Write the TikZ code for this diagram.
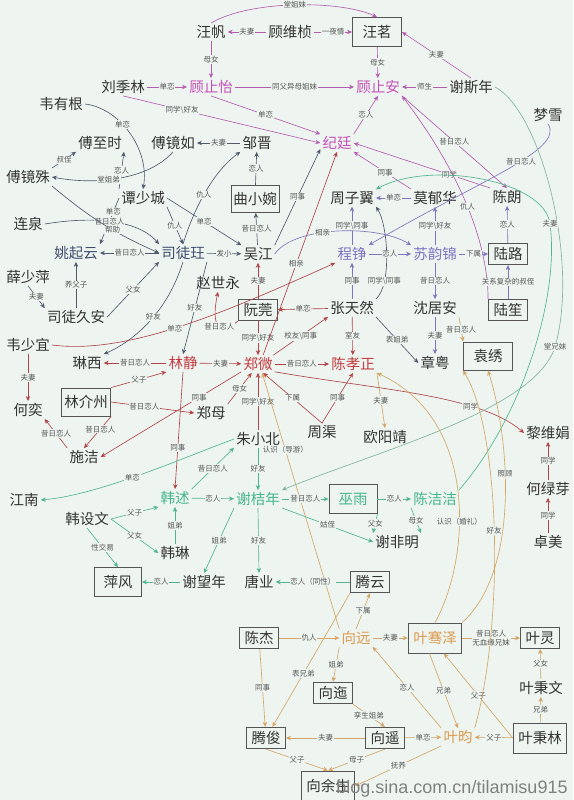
\documentclass[tikz,border=0pt]{standalone}
\usepackage{fontspec}
\setmainfont{Noto Sans CJK SC}
\setsansfont{Liberation Sans}
\usetikzlibrary{arrows.meta}
\definecolor{bgc}{HTML}{EEF5F0}
\definecolor{namec}{HTML}{333333}
\definecolor{boxc}{HTML}{555555}
\definecolor{labc}{HTML}{555555}
\definecolor{pkt}{HTML}{C54FB8}
\definecolor{rdt}{HTML}{C23B40}
\definecolor{grt}{HTML}{45B58C}
\definecolor{lvt}{HTML}{7D73C2}
\definecolor{ort}{HTML}{DC9B50}
\definecolor{bdt}{HTML}{3F4C6E}
\definecolor{pke}{HTML}{B45DB0}
\definecolor{dke}{HTML}{4F5A6E}
\definecolor{rde}{HTML}{B04448}
\definecolor{gre}{HTML}{4FB58E}
\definecolor{lve}{HTML}{7F74BE}
\definecolor{tne}{HTML}{D5A567}
\definecolor{gge}{HTML}{7FB59A}
\tikzset{
 nm/.style={font=\fontsize{14.5}{16}\selectfont, text=namec, inner sep=2pt},
 bx/.style={nm, draw=boxc, line width=0.9pt, inner xsep=5pt, inner ysep=4pt},
 lb/.style={font=\fontsize{7.5}{8.5}\selectfont, text=labc, fill=bgc, inner sep=0.8pt},
 ar/.style={-{Stealth[length=5pt,width=4.5pt]}, line width=0.65pt},
}
\begin{document}
\begin{tikzpicture}[x=1pt,y=-1pt]
\fill[bgc] (0,0) rectangle (573,800);
\useasboundingbox (0,0) rectangle (573,800);
% ---------- nodes ----------
\node[nm] (wf) at (211,32) {汪帆};
\node[nm] (gwz) at (290,32) {顾维桢};
\node[bx,minimum width=49pt,minimum height=29pt] (wm) at (377,32) {汪茗};
\node[nm,text=pkt] (gzy) at (211,87) {顾止怡};
\node[nm,text=pkt] (gza) at (378,87) {顾止安};
\node[nm] (ljl) at (123,87) {刘季林};
\node[nm] (xsn) at (471,87) {谢斯年};
\node[nm] (mx) at (548,115) {梦雪};
\node[nm] (yyg) at (61,104) {韦有根};
\node[nm] (fzs) at (100,143) {傅至时};
\node[nm] (fjr) at (173,143) {傅镜如};
\node[nm] (zj) at (257,143) {邹晋};
\node[nm,text=pkt] (jt) at (337,143) {纪廷};
\node[nm] (fjs) at (28,177) {傅镜殊};
\node[nm] (tsc) at (143,198) {谭少城};
\node[bx,minimum width=48pt,minimum height=27pt,inner xsep=2pt] (qxw) at (255,199) {曲小婉};
\node[nm] (zzy) at (352,198) {周子翼};
\node[nm] (myh) at (435,198) {莫郁华};
\node[nm] (cl) at (507,197) {陈朗};
\node[nm] (lq) at (28,224) {连泉};
\node[nm,text=bdt] (yqy) at (76,253) {姚起云};
\node[nm,text=bdt] (stj) at (183,253) {司徒玨};
\node[nm] (wjg) at (258,254) {吴江};
\node[nm,text=lvt] (cz) at (352,254) {程铮};
\node[nm,text=lvt] (syj) at (435,254) {苏韵锦};
\node[bx] (ll) at (508,254) {陆路};
\node[nm] (xsp) at (28,277) {薛少萍};
\node[nm] (zsy) at (218,283) {赵世永};
\node[bx] (rw) at (258,310) {阮莞};
\node[nm] (ztr) at (352,308) {张天然};
\node[nm] (sja) at (435,308) {沈居安};
\node[bx] (ls) at (508,310) {陆笙};
\node[nm] (stja) at (76,317) {司徒久安};
\node[nm] (wsy) at (28,345) {韦少宜};
\node[nm] (lx) at (87,363) {琳西};
\node[nm,text=rdt] (ljing) at (183,363) {林静};
\node[nm,text=rdt] (zw) at (258,364) {郑微};
\node[nm,text=rdt] (cxz) at (353,364) {陈孝正};
\node[nm] (zy) at (435,363) {章粤};
\node[bx,minimum width=49pt,minimum height=28pt] (yx) at (488,356) {袁绣};
\node[bx,minimum height=28pt,inner xsep=3pt] (ljz) at (86,402) {林介州};
\node[nm] (hy) at (28,410) {何奕};
\node[nm] (zm) at (211,413) {郑母};
\node[nm] (zq) at (322,432) {周渠};
\node[nm] (zxb) at (258,439) {朱小北};
\node[nm] (oyj) at (385,437) {欧阳靖};
\node[nm] (lwj) at (548,433) {黎维娟};
\node[nm] (sj) at (84,457) {施洁};
\node[nm] (lly) at (548,489) {何绿芽};
\node[nm] (jn) at (24,500) {江南};
\node[nm,text=grt] (hs) at (175,498) {韩述};
\node[nm,text=grt] (xjn) at (258,499) {谢桔年};
\node[bx,text=grt,minimum width=48pt,minimum height=29pt] (wy) at (353,499) {巫雨};
\node[nm,text=grt] (cjj) at (435,499) {陈洁洁};
\node[nm] (hsw) at (87,519) {韩设文};
\node[nm] (xfm) at (397,542) {谢非明};
\node[nm] (zmei) at (548,542) {卓美};
\node[nm] (hl) at (175,553) {韩琳};
\node[bx,minimum width=47pt,minimum height=29pt] (pf) at (118,582) {萍风};
\node[nm] (xwn) at (204,582) {谢望年};
\node[nm] (ty) at (259,582) {唐业};
\node[bx] (tyun) at (370,582) {腾云};
\node[bx] (cj) at (259,638) {陈杰};
\node[nm,text=ort] (xy) at (356,638) {向远};
\node[bx,text=ort,minimum height=30pt] (yqz) at (435,638) {叶骞泽};
\node[bx] (yl) at (540,638) {叶灵};
\node[bx] (yx2) at (333,693) {向迤};
\node[nm] (ybw) at (541,688) {叶秉文};
\node[bx] (tj) at (266,738) {腾俊};
\node[bx] (xyao) at (385,738) {向遥};
\node[nm,text=ort] (yyun) at (458,737) {叶昀};
\node[bx,minimum height=30pt] (ybl) at (540,738) {叶秉林};
\node[bx,minimum height=30pt] (xys) at (328,786) {向余生};
% ---------- pink ----------
\draw[ar,pke] (wf.north) .. controls (250,0) and (340,0) .. (wm.north) node[lb,pos=.5]{堂姐妹};
\draw[ar,pke] (gwz) -- node[lb]{夫妻} (wf);
\draw[ar,pke] (gwz) -- node[lb]{一夜情} (wm);
\draw[ar,pke] (wf) -- node[lb]{母女} (gzy);
\draw[ar,pke] (wm) -- node[lb]{母女} (gza);
\draw[ar,pke] (gzy) -- node[lb]{同父异母姐妹} (gza);
\draw[ar,pke] (ljl) -- node[lb]{单恋} (gzy);
\draw[ar,pke] (xsn) -- node[lb]{师生} (gza);
\draw[ar,pke] (xsn.north) -- node[lb]{夫妻} (wm.east);
\draw[ar,pke] (gzy.south) -- node[lb]{单恋} (jt.north west);
\draw[ar,pke] (ljl.south) -- node[lb,pos=.3]{同学\textbackslash 好友} (jt.west);
\draw[ar,pke] (jt.north east) -- node[lb]{恋人} (gza.south);
\draw[ar,pke] (gza.south east) -- node[lb]{昔日恋人} (cl.north);
\draw[ar,pke] (cl.north west) -- node[lb,pos=.3]{同学} (jt.east);
\draw[ar,pke] (myh.north west) -- node[lb,pos=.45]{同事} (jt.south east);
\draw[ar,pke] (ls.north west) .. controls (488,245) and (462,175) .. (gza.south east) node[lb,pos=.5]{仇人};
% ---------- dark ----------
\draw[ar,dke] (yyg.east) .. controls (120,108) and (150,150) .. (tsc.north) node[lb,pos=.4]{单恋};
\draw[ar,dke] (fjs.north east) -- node[lb]{叔侄} (fzs.south west);
\draw[ar,dke] (tsc.north west) -- node[lb]{恋人} (fzs.south east);
\draw[ar,dke] (zj) -- node[lb]{夫妻} (fjr);
\draw[ar,dke] (fjr.south) .. controls (150,178) and (100,186) .. (fjs.east) node[lb,pos=.6]{堂姐弟};
\draw[ar,dke] (qxw) -- node[lb]{恋人} (zj);
\draw[ar,dke] (stj.north) .. controls (195,205) and (215,170) .. (zj.south west) node[lb,pos=.45]{仇人};
\draw[ar,dke] (tsc.west) -- node[lb,pos=.3]{单恋} (yqy.north east);
\draw[ar,dke] (lq.east) .. controls (100,215) and (140,222) .. (stj.north west) node[lb,pos=.45]{昔日恋人};
\draw[ar,dke] (tsc.south east) -- node[lb]{仇人} (stj.north);
\draw[ar,dke] (fjs.south east) to[bend right=8] node[lb,pos=.6]{帮助} (stj.west);
\draw[ar,dke] (stj) -- node[lb]{昔日恋人} (yqy);
\draw[ar,dke] (xsp.south) -- node[lb]{夫妻} (stja.north west);
\draw[ar,dke] (stja) -- node[lb]{养父子} (yqy);
\draw[ar,dke] (stja.east) -- node[lb]{父女} (stj.south west);
\draw[ar,dke] (stj.south) .. controls (165,320) and (125,345) .. (lx.north east) node[lb,pos=.4]{好友};
\draw[ar,dke] (stj.south east) -- node[lb]{好友} (ljing.north);
\draw[ar,dke] (stj) -- node[lb]{发小} (wjg);
\draw[ar,dke] (tsc.east) -- node[lb]{单恋} (wjg.north west);
\draw[ar,dke] (wjg.north east) -- node[lb]{同事} (jt.200);
\draw[ar,dke] (wjg) -- node[lb]{昔日恋人} (qxw);
\draw[ar,dke] (ztr.north east) .. controls (392,285) and (388,225) .. (zzy.south east) node[lb,pos=.25]{同学\textbackslash 同事};
\draw[ar,dke] (ztr.south east) -- node[lb]{表姐弟} (zy.west);
% ---------- red ----------
\draw[ar,rde] (wsy.east) .. controls (130,355) and (230,310) .. (cz.south west) node[lb,pos=.47]{单恋};
\draw[ar,rde] (wsy) -- node[lb]{夫妻} (hy);
\draw[ar,rde] (ljing) -- node[lb]{昔日恋人} (lx);
\draw[ar,rde] (ljz.north east) -- node[lb]{父子} (ljing.south west);
\draw[ar,rde] (ljz.east) -- node[lb,pos=.4]{昔日恋人} (zm.west);
\draw[ar,rde] (ljz.south east) -- node[lb,pos=.4]{昔日恋人} (sj.north);
\draw[ar,rde] (sj.north west) -- node[lb]{昔日恋人} (hy.south east);
\draw[ar,rde] (zw.205) -- node[lb,pos=.3]{同事} (sj.east);
\draw[ar,rde] (zm.north east) -- node[lb]{母女} (zw.235);
\draw[ar,rde] (ljing) -- node[lb]{夫妻} (zw);
\draw[ar,rde] (ljing.south) -- node[lb,pos=.65]{同事} (hs.north);
\draw[ar,rde] (zw) -- node[lb]{昔日恋人} (cxz);
\draw[ar,rde] (ztr) -- node[lb]{单恋} (rw);
\draw[ar,rde] (zw.30) -- node[lb]{校友\textbackslash 同事} (ztr.south west);
\draw[ar,rde] (rw) -- node[lb]{同学\textbackslash 好友} (zw);
\draw[ar,rde] (rw) -- node[lb]{夫妻} (wjg);
\draw[ar,rde] (rw.south west) .. controls (215,338) and (212,320) .. (zsy.south) node[lb,pos=.4]{昔日恋人};
\draw[ar,rde] (zw.60) -- node[lb,pos=.45]{相亲} (jt.south);
\draw[ar,rde] (ztr) -- node[lb]{室友} (cxz);
\draw[ar,tne] (cxz.south east) -- node[lb]{夫妻} (oyj.north);
\draw[ar,rde] (zq.north) -- node[lb]{下属} (zw.300);
\draw[ar,rde] (zq.north) -- node[lb]{同事} (cxz.south);
\draw[ar,rde] (zw.335) .. controls (380,390) and (480,395) .. (lwj.west) node[lb,pos=.7]{同学};
\draw[ar,rde] (lly) -- node[lb]{同学} (lwj);
\draw[ar,rde] (zmei) -- node[lb]{同学} (lly);
\draw[ar,rde] (zxb) -- node[lb]{同学\textbackslash 好友} (zw);
\draw[ar,tne] (xy.north west) -- node[lb,pos=.7]{认识（导游）} (zw.295);
% ---------- lavender ----------
\draw[ar,lve] (mx.south) .. controls (565,150) and (480,180) .. (cz.north east) node[lb,pos=.42]{昔日恋人};
\draw[ar,lve] (myh) -- node[lb]{单恋} (zzy);
\draw[ar,lve] (cz) -- node[lb]{同学\textbackslash 同事} (zzy);
\draw[ar,lve] (cz) -- node[lb]{恋人} (syj);
\draw[ar,lve] (syj) -- node[lb]{同学\textbackslash 好友} (myh);
\draw[ar,lve] (syj) -- node[lb]{下属} (ll);
\draw[ar,lve] (ll) -- node[lb]{恋人} (cl);
\draw[ar,lve] (ls) -- node[lb]{关系复杂的叔侄} (ll);
\draw[ar,lve] (syj) -- node[lb]{昔日恋人} (sja);
\draw[ar,lve] (sja) -- node[lb]{夫妻} (zy);
\draw[ar,lve] (ztr) -- node[lb]{同事} (cz);
\draw[ar,lve] (wjg.east) .. controls (295,225) and (380,225) .. (syj.160) node[lb,pos=.4]{相亲};
\draw[ar,tne] (sja.south east) -- node[lb]{昔日恋人} (yx.north west);
% ---------- green ----------
\draw[ar,gre] (zxb) -- node[lb]{好友} (xjn);
\draw[ar,gre] (hs.north east) -- node[lb]{昔日恋人} (zxb.200);
\draw[ar,gre] (zxb.west) .. controls (190,455) and (100,495) .. (jn.east) node[lb,pos=.55]{单恋};
\draw[ar,gre] (hs) -- node[lb]{恋人} (xjn);
\draw[ar,gre] (xjn) -- node[lb]{昔日恋人} (wy);
\draw[ar,gre] (wy) -- node[lb]{恋人} (cjj);
\draw[ar,gre] (wy.south east) -- node[lb]{父女} (xfm.north west);
\draw[ar,gre] (cjj.south west) -- node[lb]{母女} (xfm.north east);
\draw[ar,gre] (xjn.south east) -- node[lb]{姑侄} (xfm.west);
\draw[ar,gre] (xjn.south west) -- node[lb]{姐弟} (xwn.north);
\draw[ar,gre] (xjn.south) -- node[lb]{好友} (ty.north);
\draw[ar,gre] (tyun) -- node[lb]{恋人（同性）} (ty);
\draw[ar,gre] (xwn) -- node[lb]{恋人} (pf);
\draw[ar,gre] (hsw.east) -- node[lb]{父子} (hs.south west);
\draw[ar,gre] (hsw.east) -- node[lb]{父女} (hl.west);
\draw[ar,gre] (hl) -- node[lb]{姐弟} (hs);
\draw[ar,gre] (hsw.south) -- node[lb]{性交易} (pf.north);
\draw[ar,gge] (xsn.east) .. controls (540,110) and (580,260) .. (555,347) node[lb,pos=1]{堂兄妹} .. controls (535,410) and (380,450) .. (xjn.north east);
\draw[ar,gre] (cjj.north east) .. controls (520,420) and (560,300) .. (550,224) node[lb,pos=1]{夫妻} .. controls (545,180) and (430,160) .. (zzy.north east);
% ---------- tan ----------
\draw[ar,tne] (xy.north) -- node[lb]{下属} (tyun.south);
\draw[ar,tne] (tyun.south west) -- node[lb,pos=.6]{表兄弟} (tj.60);
\draw[ar,tne] (cj) -- node[lb]{仇人} (xy);
\draw[ar,tne] (cj) -- node[lb]{同事} (tj);
\draw[ar,tne] (xy) -- node[lb]{夫妻} (yqz);
\draw[ar,tne] (yqz) -- node[lb,align=center]{昔日恋人\\无血缘兄妹} (yl);
\draw[ar,tne] (ybw) -- node[lb]{父女} (yl);
\draw[ar,tne] (ybl) -- node[lb]{兄弟} (ybw);
\draw[ar,tne] (ybl) -- node[lb]{父子} (yyun);
\draw[ar,tne] (ybl.west) -- node[lb]{父子} (yqz.300);
\draw[ar,tne] (yqz.250) -- node[lb]{兄弟} (yyun.north);
\draw[ar,tne] (yyun.north west) -- node[lb]{恋人} (xy.south east);
\draw[ar,tne] (xy.south west) -- node[lb]{姐弟} (yx2.north);
\draw[ar,tne] (yx2.south east) -- node[lb]{孪生姐弟} (xyao.north);
\draw[ar,tne] (xyao) -- node[lb]{单恋} (yyun);
\draw[ar,tne] (xyao) -- node[lb]{夫妻} (tj);
\draw[ar,tne] (tj.south) -- node[lb]{父子} (xys.north);
\draw[ar,tne] (xyao.south) -- node[lb]{母子} (xys.north);
\draw[ar,tne] (yyun.south west) -- node[lb]{抚养} (xys.east);
\draw[ar,tne] (yqz.north) .. controls (470,560) and (480,420) .. (cxz.south east) node[lb,pos=.4]{认识（婚礼）};
\draw[ar,tne] (yqz.north east) .. controls (520,570) and (510,440) .. (yx.south) node[lb,pos=.6]{照顾};
\draw[ar,tne] (yyun.north east) .. controls (505,620) and (500,430) .. (yx.south west) node[lb,pos=.5]{好友};
% watermark
\node[font=\fontsize{18}{18}\selectfont\sffamily, text=gray] (blog) at (452,789) {blog.sina.com.cn/tilamisu915};
\end{tikzpicture}
\end{document}
